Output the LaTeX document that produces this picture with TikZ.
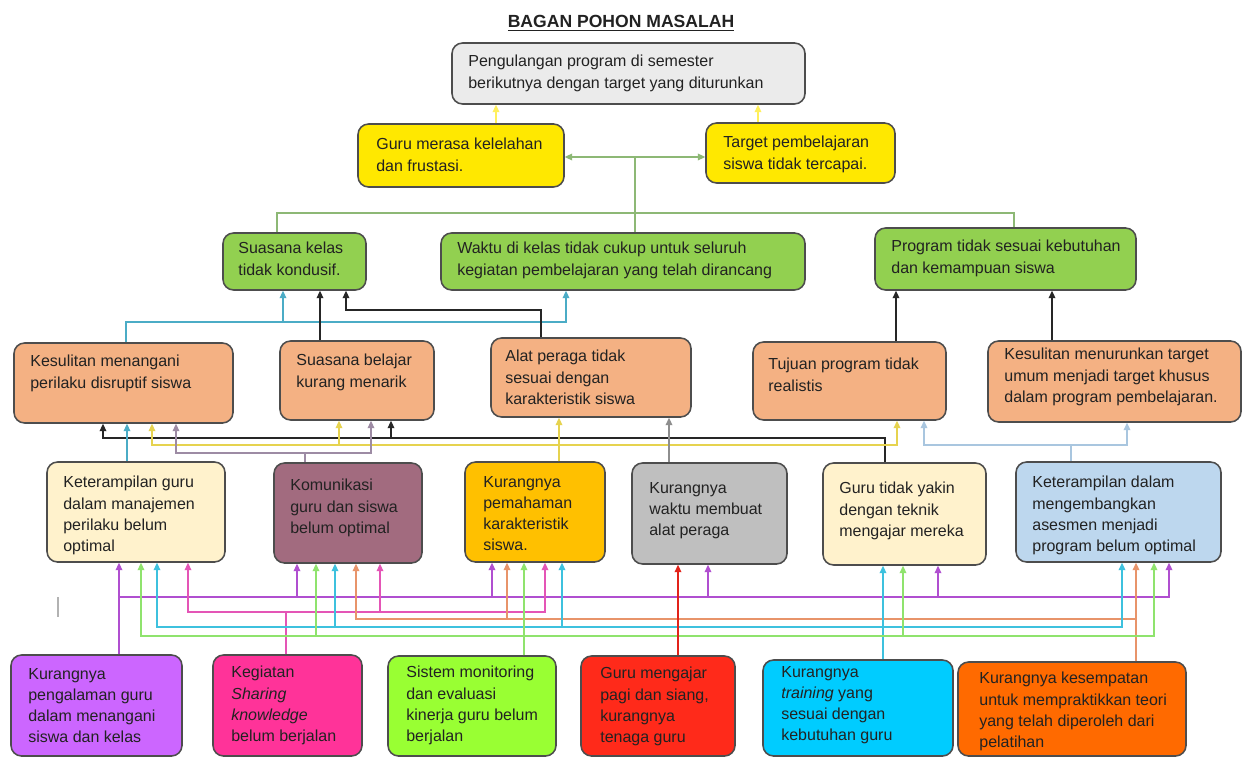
\documentclass[tikz,border=0pt]{standalone}
\usepackage{fontspec}
\setmainfont{Liberation Sans}
\usetikzlibrary{fit,arrows.meta}
\usepackage{xcolor}

\definecolor{boxln}{HTML}{4D4D4D}
\definecolor{txtc}{HTML}{222222}
\definecolor{cTop}{HTML}{EBEBEB}
\definecolor{cYel}{HTML}{FFE800}
\definecolor{cGrn}{HTML}{92D050}
\definecolor{cSal}{HTML}{F4B183}
\definecolor{cCream}{HTML}{FFF2CC}
\definecolor{cMauve}{HTML}{A26B7F}
\definecolor{cGold}{HTML}{FFC000}
\definecolor{cGrey}{HTML}{BFBFBF}
\definecolor{cLBlue}{HTML}{BDD7EE}
\definecolor{cPur}{HTML}{CC66FF}
\definecolor{cMag}{HTML}{FF3399}
\definecolor{cLime}{HTML}{99FF33}
\definecolor{cRed}{HTML}{FF2A1A}
\definecolor{cCyan}{HTML}{00CCFF}
\definecolor{cOrg}{HTML}{FF6A00}
% connector colours
\definecolor{aGrn}{HTML}{8DB875}
\definecolor{aYelS}{HTML}{FFF05C}
\definecolor{aCyan}{HTML}{4BACC6}
\definecolor{aBlk}{HTML}{262626}
\definecolor{aYel}{HTML}{E6D34F}
\definecolor{aMauve}{HTML}{9D8BA4}
\definecolor{aGrey}{HTML}{8E8E8E}
\definecolor{aLBlue}{HTML}{A9C6DF}
\definecolor{aPur}{HTML}{B04FD0}
\definecolor{aPink}{HTML}{E455B6}
\definecolor{aOrg}{HTML}{E8946A}
\definecolor{aCyanB}{HTML}{3DC1DE}
\definecolor{aGrnB}{HTML}{8FE36D}
\definecolor{aRed}{HTML}{E2231A}

\tikzset{
  >={Triangle[length=4.2pt,width=3.8pt]},
  box/.style={draw=boxln, line width=0.9pt, rounded corners=6pt, inner sep=0pt},
  txt/.style={font=\fontsize{9.1}{12}\selectfont, text=txtc, align=left, inner sep=0pt, anchor=north west},
  ln/.style={line width=0.8pt, ->},
}

\begin{document}
\begin{tikzpicture}[x=0.02cm, y=-0.02cm]
  \fill[white] (0,0) rectangle (1244,760);
  \useasboundingbox (0,0) rectangle (1244,760);

  \node[font=\fontsize{10}{12}\bfseries\selectfont, text=txtc, anchor=base, inner sep=0pt] (title) at (621,28) {\underline{BAGAN POHON MASALAH}};

  % top row
  \node[box, fill=cTop, fit={(452,43) (805,104)}] (top) {};
  \node[txt] (top-t) at (468,55) {Pengulangan program di semester\\berikutnya dengan target yang diturunkan};

  \node[box, fill=cYel, fit={(358,124) (564,187)}] (y1) {};
  \node[txt] (y1-t) at (376,138) {Guru merasa kelelahan\\dan frustasi.};
  \node[box, fill=cYel, fit={(706,123) (895,183)}] (y2) {};
  \node[txt] (y2-t) at (723,136) {Target pembelajaran\\siswa tidak tercapai.};

  % green row
  \node[box, fill=cGrn, fit={(223,233) (366,290)}] (g1) {};
  \node[txt] (g1-t) at (238,242) {Suasana kelas\\tidak kondusif.};
  \node[box, fill=cGrn, fit={(441,233) (805,290)}] (g2) {};
  \node[txt] (g2-t) at (457,242) {Waktu di kelas tidak cukup untuk seluruh\\kegiatan pembelajaran yang telah dirancang};
  \node[box, fill=cGrn, fit={(875,228) (1136,290)}] (g3) {};
  \node[txt] (g3-t) at (891,240) {Program tidak sesuai kebutuhan\\dan kemampuan siswa};

  % salmon row
  \node[box, fill=cSal, fit={(14,343) (233,423)}] (o1) {};
  \node[txt] (o1-t) at (30,355) {Kesulitan menangani\\perilaku disruptif siswa};
  \node[box, fill=cSal, fit={(280,341) (434,420)}] (o2) {};
  \node[txt] (o2-t) at (296,354) {Suasana belajar\\kurang menarik};
  \node[box, fill=cSal, fit={(491,338) (691,417)}] (o3) {};
  \node[txt] (o3-t) at (505,350) {Alat peraga tidak\\sesuai dengan\\karakteristik siswa};
  \node[box, fill=cSal, fit={(753,342) (946,420)}] (o4) {};
  \node[txt] (o4-t) at (768,358) {Tujuan program tidak\\realistis};
  \node[box, fill=cSal, fit={(988,341) (1241,422)}] (o5) {};
  \node[txt] (o5-t) at (1004,348) {Kesulitan menurunkan target\\umum menjadi target khusus\\dalam program pembelajaran.};

  % fourth row
  \node[box, fill=cCream, fit={(47,462) (225,562)}] (kg) {};
  \node[txt] (kg-t) at (63,476) {Keterampilan guru\\dalam manajemen\\perilaku belum\\optimal};
  \node[box, fill=cMauve, fit={(274,463) (422,563)}] (km) {};
  \node[txt] (km-t) at (290,479) {Komunikasi\\guru dan siswa\\belum optimal};
  \node[box, fill=cGold, fit={(465,462) (605,562)}] (kp) {};
  \node[txt] (kp-t) at (483,476) {Kurangnya\\pemahaman\\karakteristik\\siswa.};
  \node[box, fill=cGrey, fit={(632,463) (787,564)}] (kw) {};
  \node[txt] (kw-t) at (649,482) {Kurangnya\\waktu membuat\\alat peraga};
  \node[box, fill=cCream, fit={(823,463) (986,565)}] (gy) {};
  \node[txt] (gy-t) at (839,482) {Guru tidak yakin\\dengan teknik\\mengajar mereka};
  \node[box, fill=cLBlue, fit={(1016,462) (1221,562)}] (kd) {};
  \node[txt] (kd-t) at (1032,476) {Keterampilan dalam\\mengembangkan\\asesmen menjadi\\program belum optimal};

  % bottom row
  \node[box, fill=cPur, fit={(11,655) (182,756)}] (p1) {};
  \node[txt] (p1-t) at (28,668) {Kurangnya\\pengalaman guru\\dalam menangani\\siswa dan kelas};
  \node[box, fill=cMag, fit={(213,655) (362,756)}] (p2) {};
  \node[txt] (p2-t) at (231,666) {Kegiatan\\\textit{Sharing}\\\textit{knowledge}\\belum berjalan};
  \node[box, fill=cLime, fit={(388,656) (556,756)}] (p3) {};
  \node[txt] (p3-t) at (406,666) {Sistem monitoring\\dan evaluasi\\kinerja guru belum\\berjalan};
  \node[box, fill=cRed, fit={(581,656) (735,756)}] (p4) {};
  \node[txt] (p4-t) at (600,667) {Guru mengajar\\pagi dan siang,\\kurangnya\\tenaga guru};
  \node[box, fill=cCyan, fit={(763,660) (953,756)}] (p5) {};
  \node[txt] (p5-t) at (781,666) {Kurangnya\\\textit{training} yang\\sesuai dengan\\kebutuhan guru};
  \node[box, fill=cOrg, fit={(958,662) (1186,756)}] (p6) {};
  \node[txt] (p6-t) at (979,672) {Kurangnya kesempatan\\untuk mempraktikkan teori\\yang telah diperoleh dari\\pelatihan};

  % green tree to the top
  \coordinate (gm) at (635,157);
  \draw[line width=0.8pt, aGrn, <->] (y1.east |- gm) -- (y2.west |- gm);
  \draw[line width=0.8pt, aGrn] (gm) -- (g2.north -| gm);
  \draw[line width=0.8pt, aGrn] (g1.north -| 277,0) |- (1014,213) -- (g3.north -| 1014,0);
  \draw[ln, aYelS] (y1.north -| 496,0) -- (top.south -| 496,0);
  \draw[ln, aYelS] (y2.north -| 758,0) -- (top.south -| 758,0);

  % salmon row -> green row
  \foreach \x/\t in {283/g1, 566/g2}
    \draw[ln, aCyan] (o1.north -| 126,0) |- (\x,322) -- (\t.south -| \x,0);
  \draw[ln, aBlk] (o2.north -| 320,0) -- (g1.south -| 320,0);
  \draw[ln, aBlk] (o3.north -| 541,0) |- (346,310) -- (g1.south -| 346,0);
  \draw[ln, aBlk] (o4.north -| 896,0) -- (g3.south -| 896,0);
  \draw[ln, aBlk] (o5.north -| 1052,0) -- (g3.south -| 1052,0);

  % fourth row -> salmon row
  \foreach \x/\t in {103/o1, 391/o2}
    \draw[ln, aBlk] (gy.north -| 885,0) |- (\x,438) -- (\t.south -| \x,0);
  \draw[ln, aCyan] (kg.north -| 127,0) -- (o1.south -| 127,0);
  \foreach \x/\t in {559/o3, 152/o1, 339/o2, 897/o4}
    \draw[ln, aYel] (kp.north -| 559,0) |- (\x,445) -- (\t.south -| \x,0);
  \foreach \x/\t in {176/o1, 371/o2}
    \draw[ln, aMauve] (km.north -| 305,0) |- (\x,453) -- (\t.south -| \x,0);
  \draw[ln, aGrey] (kw.north -| 669,0) -- (o3.south -| 669,0);
  \foreach \x/\t in {924/o4, 1127/o5}
    \draw[ln, aLBlue] (kd.north -| 1071,0) |- (\x,445) -- (\t.south -| \x,0);

  % bottom row -> fourth row
  \foreach \x/\t in {119/kg, 297/km, 492/kp, 708/kw, 938/gy, 1169/kd}
    \draw[ln, aPur] (p1.north -| 119,0) |- (\x,597) -- (\t.south -| \x,0);
  \foreach \x/\t in {188/kg, 380/km, 545/kp}
    \draw[ln, aPink] (p2.north -| 286,0) |- (\x,612) -- (\t.south -| \x,0);
  \foreach \x/\t in {356/km, 507/kp, 1136/kd}
    \draw[ln, aOrg] (p6.north -| 1136,0) |- (\x,619) -- (\t.south -| \x,0);
  \foreach \x/\t in {157/kg, 335/km, 562/kp, 883/gy, 1122/kd}
    \draw[ln, aCyanB] (p5.north -| 883,0) |- (\x,627) -- (\t.south -| \x,0);
  \foreach \x/\t in {141/kg, 316/km, 524/kp, 903/gy, 1154/kd}
    \draw[ln, aGrnB] (p3.north -| 524,0) |- (\x,636) -- (\t.south -| \x,0);
  \draw[ln, aRed] (p4.north -| 678,0) -- (kw.south -| 678,0);

  % stray cursor mark
  \draw[gray!60, line width=0.8pt] (58,597) -- (58,617);
\end{tikzpicture}
\end{document}
